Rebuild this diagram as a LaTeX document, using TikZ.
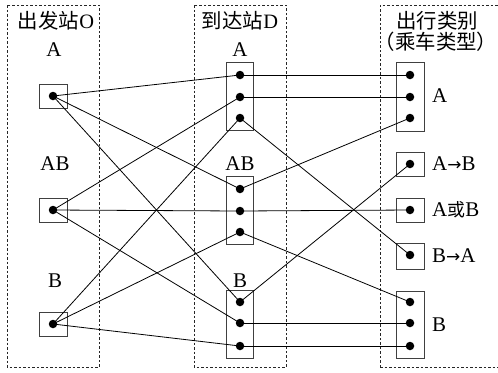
\documentclass[tikz,border=0pt]{standalone}
\usepackage{fontspec}
\setmainfont{Liberation Serif}
\newfontfamily\latn{Liberation Serif}
\newfontfamily\cjk{Noto Sans CJK SC}
\newfontfamily\arr{DejaVu Sans}
\begin{document}
\begin{tikzpicture}[x=1bp,y=-1bp,
  frame/.style={draw=black!85,line width=0.9bp,dash pattern=on 2.5bp off 2bp},
  sbox/.style={draw=black!75,line width=1bp,minimum width=28bp,minimum height=24bp,inner sep=0pt},
  tbox/.style={draw=black!75,line width=1bp,minimum width=27bp,minimum height=68bp,inner sep=0pt},
  pt/.style={circle,fill=black,inner sep=0pt,minimum size=8.5bp},
  lab/.style={font=\latn\fontsize{21}{23}\selectfont,inner sep=0pt},
  hdr/.style={font=\latn\fontsize{20.5}{23}\selectfont,inner sep=0pt},
  link/.style={line width=0.8bp,black}]
\useasboundingbox (0,0) rectangle (498,372);
\begin{scope}
\clip (0,0) rectangle (498,372);
\draw[frame] (7,5) rectangle (99,367);
\draw[frame] (194,5) rectangle (286,367);
\draw[frame] (380,367) -- (380,5) -- (510,5);
\draw[frame] (380,367) -- (510,367);
\end{scope}
% headers
\node[hdr] (hO) at (56,21) {{\cjk 出发站}O};
\node[hdr] (hD) at (240,21) {{\cjk 到达站}D};
\node[hdr] (hC1) at (437,21) {{\cjk 出行类别}};
\node[hdr] (hC2) at (436,42) {{\cjk （乘车类型）}};
% left column
\node[lab] (lA) at (54,50) {A};
\node[lab] (lAB) at (55,164) {AB};
\node[lab] (lB) at (55,281) {B};
\node[sbox] (oA) at (53.5,96) {};
\node[sbox] (oAB) at (53.5,210) {};
\node[sbox] (oB) at (53.5,324.5) {};
% middle column
\node[lab] (mAl) at (240,50) {A};
\node[lab] (mABl) at (240,164) {AB};
\node[lab] (mBl) at (240,281) {B};
\node[tbox] (dA) at (239.5,96) {};
\node[tbox] (dAB) at (239.5,210) {};
\node[tbox] (dB) at (239.5,324.5) {};
% right column
\node[tbox,minimum width=28bp,minimum height=69bp] (cA) at (410,96.5) {};
\node[sbox] (cAtoB) at (410,164) {};
\node[sbox] (cAorB) at (410,210) {};
\node[sbox,minimum height=26bp] (cBtoA) at (410,256.5) {};
\node[tbox,minimum width=28bp,minimum height=67bp] (cB) at (410,324.5) {};
\node[lab,anchor=west] (rA) at (432,96) {A};
\node[lab,anchor=west] (rAtoB) at (432,164) {A{\arr\fontsize{17}{17}\selectfont →}B};
\node[lab,anchor=west] (rAorB) at (432,210) {A{\cjk\fontsize{18}{18}\selectfont 或}B};
\node[lab,anchor=west] (rBtoA) at (432,256) {B{\arr\fontsize{17}{17}\selectfont →}A};
\node[lab,anchor=west] (rB) at (432,325) {B};
% dot coordinates
\coordinate (po1) at (53,96);
\coordinate (po2) at (53,210);
\coordinate (po3) at (53,324);
\foreach \n/\y in {a1/75,a2/97,a3/118,b1/189,b2/211,b3/232,c1/302,c2/323,c3/346}
  \coordinate (pd\n) at (240,\y);
\foreach \n/\y in {a1/75,a2/97,a3/118,atb/164,aob/210,bta/255,b1/302,b2/323,b3/346}
  \coordinate (pc\n) at (410,\y);
% connectors O -> D
\draw[link] (po1) -- (pda1);
\draw[link] (po1) -- (pdb1);
\draw[link] (po1) -- (pdc1);
\draw[link] (po2) -- (pda2);
\draw[link] (po2) -- (pdb2);
\draw[link] (po2) -- (pdc2);
\draw[link] (po3) -- (pda3);
\draw[link] (po3) -- (pdb3);
\draw[link] (po3) -- (pdc3);
% connectors D -> category
\draw[link] (pda1) -- (pca1);
\draw[link] (pda2) -- (pca2);
\draw[link] (pdb1) -- (pca3);
\draw[link] (pdc1) -- (pcatb);
\draw[link] (pdb2) -- (pcaob);
\draw[link] (pda3) -- (pcbta);
\draw[link] (pdb3) -- (pcb1);
\draw[link] (pdc2) -- (pcb2);
\draw[link] (pdc3) -- (pcb3);
% dots
\foreach \p in {po1,po2,po3,pda1,pda2,pda3,pdb1,pdb2,pdb3,pdc1,pdc2,pdc3,pca1,pca2,pca3,pcatb,pcaob,pcbta,pcb1,pcb2,pcb3}
  \node[pt] at (\p) {};
\end{tikzpicture}
\end{document}
